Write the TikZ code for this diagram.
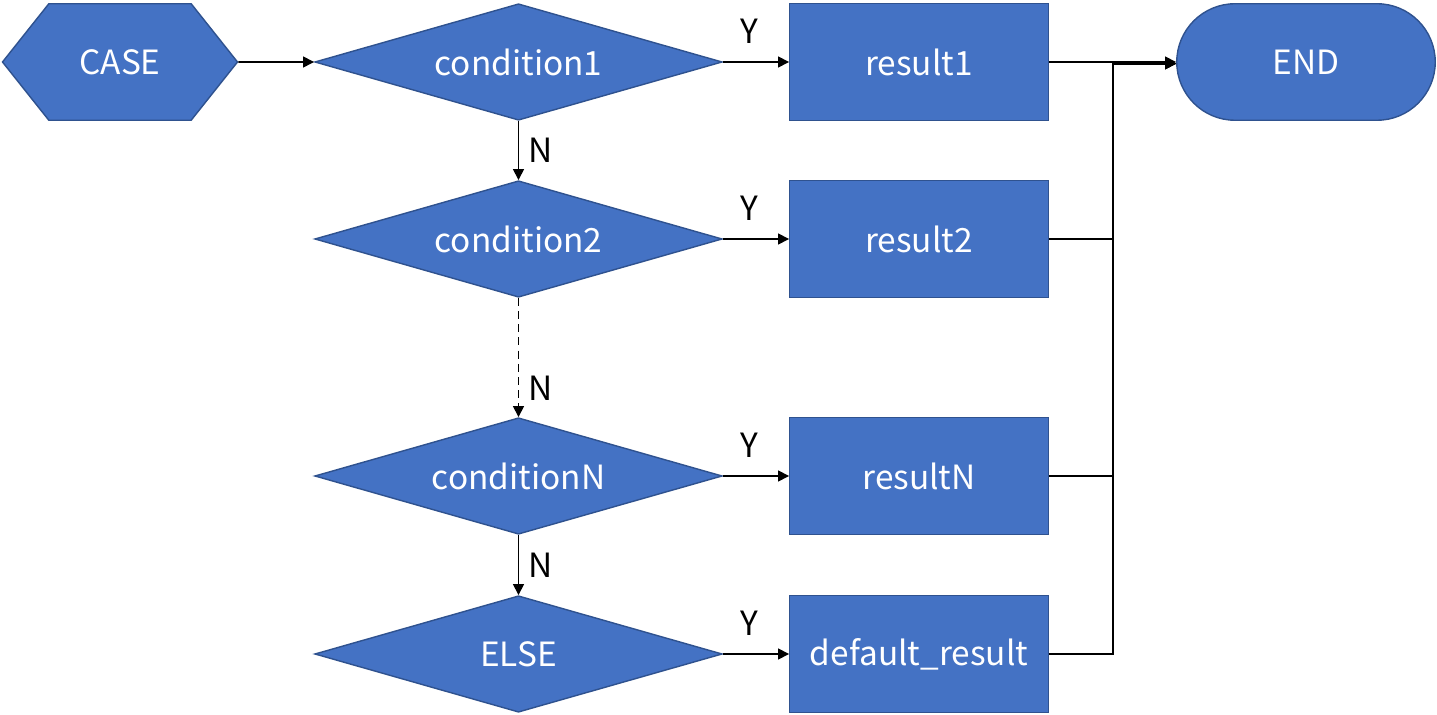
\documentclass[tikz,border=0pt]{standalone}
\usepackage{fontspec}
\setmainfont{Noto Sans CJK SC}
\usepackage{tikz}
\usetikzlibrary{positioning, arrows.meta, shapes.geometric, shapes.symbols, shapes.misc}
\definecolor{boxfill}{HTML}{4472C4}
\definecolor{boxline}{HTML}{2F528F}
\tikzset{
  flow node/.style={
    draw=boxline,
    line width=0.8pt,
    fill=boxfill,
    text=white,
    font=\fontsize{19}{23}\selectfont,
    inner sep=0pt,
    minimum height=2.33cm
  },
  start box/.style={
    flow node,
    signal, signal to=east and west,
    signal pointer angle=103,
    minimum width=4.70cm
  },
  cond box/.style={
    flow node,
    diamond, aspect=3.47,
    minimum width=8.15cm
  },
  result box/.style={
    flow node,
    rectangle,
    minimum width=5.17cm
  },
  end box/.style={
    flow node,
    rounded rectangle,
    minimum width=5.17cm
  },
  flow arrow/.style={
    -{Triangle[length=2.2mm,width=2.2mm]},
    line width=0.9pt,
    color=black
  },
  flow label/.style={
    font=\fontsize{19}{23}\selectfont,
    text=black
  }
}
\begin{document}
\begin{tikzpicture}
  \useasboundingbox (0,0) rectangle (28.74,-14.3);
  % Conditions
  \node[start box] (case) at (2.40,-1.24) {CASE};
  \node[cond box] (cond1) at (10.37,-1.24) {condition1};
  \node[cond box] (cond2) at (10.37,-4.78) {condition2};
  \node[cond box] (condn) at (10.37,-9.52) {conditionN};
  \node[cond box] (else) at (10.37,-13.08) {ELSE};

  % Results
  \node[result box] (res1) at (18.38,-1.24) {result1};
  \node[result box] (res2) at (18.38,-4.78) {result2};
  \node[result box] (resn) at (18.38,-9.52) {resultN};
  \node[result box] (resd) at (18.38,-13.08) {default\_result};
  \node[end box] (end) at (26.12,-1.24) {END};

  % Transitions
  \draw[flow arrow] (case) -- (cond1);
  \draw[flow arrow] (cond1) -- node[flow label, above=7pt, pos=0.4]{Y} (res1);
  \draw[flow arrow] (cond2) -- node[flow label, above=7pt, pos=0.4]{Y} (res2);
  \draw[flow arrow] (condn) -- node[flow label, above=7pt, pos=0.4]{Y} (resn);
  \draw[flow arrow] (else) -- node[flow label, above=7pt, pos=0.4]{Y} (resd);
  \draw[flow arrow] (cond1) -- node[flow label, right=2pt]{N} (cond2);
  \draw[flow arrow, dash pattern=on 4.5pt off 3pt] (cond2) -- node[flow label, right=2pt, pos=0.76]{N} (condn);
  \draw[flow arrow] (condn) -- node[flow label, right=2pt]{N} (else);

  % Merge into END
  \draw[flow arrow] (res1) -- (end);
  \draw[flow arrow] (res2.east) -- ++(1.28,0) |- ([yshift=-1pt]end.west);
  \draw[flow arrow] (resn.east) -- ++(1.28,0) |- ([yshift=-1pt]end.west);
  \draw[flow arrow] (resd.east) -- ++(1.28,0) |- ([yshift=-1pt]end.west);
\end{tikzpicture}
\end{document}
